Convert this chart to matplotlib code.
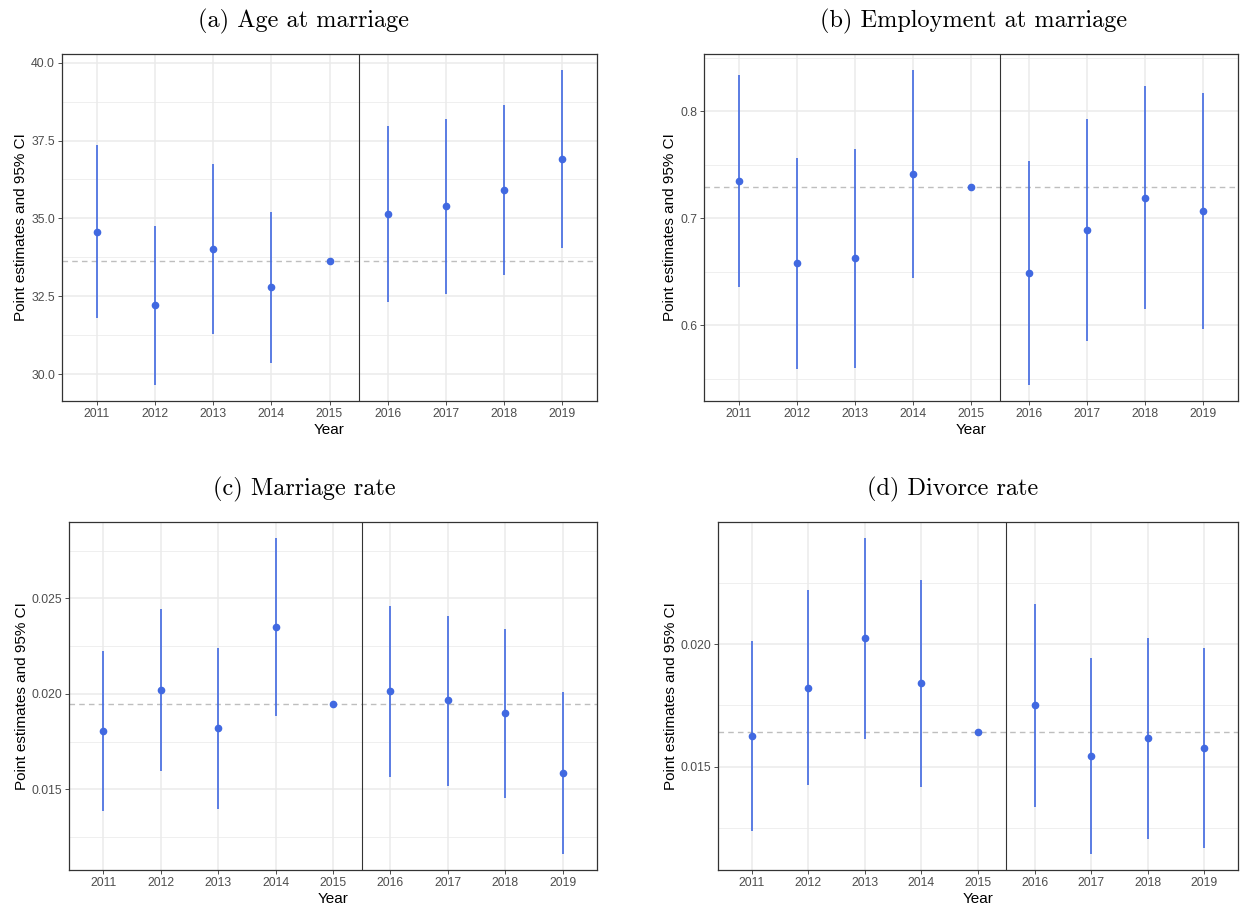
import matplotlib
matplotlib.use("Agg")
import matplotlib.pyplot as plt
from matplotlib.ticker import MultipleLocator, FormatStrFormatter
import numpy as np

plt.rcParams['font.family'] = ['Liberation Sans', 'DejaVu Sans']

years = [2011, 2012, 2013, 2014, 2015, 2016, 2017, 2018, 2019]

# (a) Age at marriage
age_est = [34.58, 32.21, 34.03, 32.79, 33.65, 35.14, 35.40, 35.92, 36.91]
age_lo = [31.80, 29.65, 31.29, 30.36, 33.65, 32.31, 32.59, 33.19, 34.04]
age_hi = [37.36, 34.75, 36.75, 35.20, 33.65, 37.96, 38.19, 38.63, 39.77]

# (b) Employment at marriage
emp_est = [0.7349, 0.6579, 0.6626, 0.7414, 0.7293, 0.6489, 0.6891, 0.7193, 0.7069]
emp_lo = [0.6361, 0.5589, 0.5598, 0.6440, 0.7293, 0.5440, 0.5850, 0.6153, 0.5966]
emp_hi = [0.8340, 0.7567, 0.7651, 0.8389, 0.7293, 0.7539, 0.7931, 0.8237, 0.8171]

# (c) Marriage rate
mar_est = [0.01807, 0.02021, 0.01819, 0.02353, 0.01949, 0.02016, 0.01967, 0.01898, 0.01586]
mar_lo = [0.01388, 0.01596, 0.01398, 0.01882, 0.01949, 0.01567, 0.01519, 0.01453, 0.01160]
mar_hi = [0.02223, 0.02447, 0.02239, 0.02818, 0.01949, 0.02463, 0.02410, 0.02342, 0.02010]

# (d) Divorce rate
div_est = [0.01624, 0.01822, 0.02023, 0.01840, 0.01639, 0.01751, 0.01542, 0.01615, 0.01575]
div_lo = [0.01236, 0.01425, 0.01612, 0.01418, 0.01639, 0.01336, 0.01142, 0.01205, 0.01168]
div_hi = [0.02011, 0.02220, 0.02434, 0.02261, 0.01639, 0.02165, 0.01945, 0.02023, 0.01982]

titles = ["(a) Age at marriage", "(b) Employment at marriage",
          "(c) Marriage rate", "(d) Divorce rate"]

panels = [
    (age_est, age_lo, age_hi, 2.5, 1.25, "%.1f"),
    (emp_est, emp_lo, emp_hi, 0.1, 0.05, "%.1f"),
    (mar_est, mar_lo, mar_hi, 0.005, 0.0025, "%.3f"),
    (div_est, div_lo, div_hi, 0.005, 0.0025, "%.3f"),
]

W, H = 1243, 907
fig = plt.figure(figsize=(W / 100, H / 100), dpi=100)

# axes boxes in pixels: left, right, top, bottom
boxes = [(62, 597, 54, 401), (704, 1238, 54, 401),
         (69, 597, 522, 870), (718, 1238, 522, 870)]
# title anchor (center x, baseline y) in pixels
title_pos = [(303, 27.5), (974, 27.5), (304, 495), (953, 495)]

blue = "#4169E1"
x = np.arange(len(years))
for (est, lo, hi, maj, mnr, fmt), box, title, tp in zip(panels, boxes, titles, title_pos):
    l, r, t, b = box
    ax = fig.add_axes([l / W, 1 - b / H, (r - l) / W, (b - t) / H])
    est = np.array(est); lo = np.array(lo); hi = np.array(hi)
    ymin, ymax = lo.min(), hi.max()
    pad = 0.05 * (ymax - ymin)
    ax.set_ylim(ymin - pad, ymax + pad)
    ax.set_xlim(-0.6, len(years) - 1 + 0.6)
    ax.yaxis.set_major_locator(MultipleLocator(maj))
    ax.yaxis.set_minor_locator(MultipleLocator(mnr))
    ax.yaxis.set_major_formatter(FormatStrFormatter(fmt))
    ax.set_xticks(x)
    ax.set_xticklabels([str(y) for y in years])
    ax.grid(True, which='major', color='#EBEBEB', linewidth=1.1, zorder=0)
    ax.grid(True, which='minor', axis='y', color='#EBEBEB', linewidth=0.55, zorder=0)
    ax.set_axisbelow(True)
    ax.tick_params(axis='both', which='major', length=3, width=0.6, color='#333333',
                   labelsize=8.8, labelcolor='#4D4D4D', pad=2)
    ax.tick_params(axis='y', which='minor', length=0)
    for s in ax.spines.values():
        s.set_color('#333333')
        s.set_linewidth(0.9)
    ref = est[years.index(2015)]
    ax.axhline(ref, color='#BEBEBE', linestyle=(0, (4, 3)), linewidth=1.0, zorder=1)
    ax.axvline(4.5, color='#333333', linewidth=0.8, zorder=1)
    ax.vlines(x, lo, hi, color=blue, linewidth=1.2, zorder=2)
    ax.plot(x, est, 'o', color=blue, markersize=4.5, zorder=3)
    ax.set_xlabel("Year", fontsize=11, labelpad=2.5)
    ax.set_ylabel("Point estimates and 95% CI", fontsize=11, labelpad=2)
    fig.text(tp[0] / W, 1 - tp[1] / H, title, family='cmr10', fontsize=17.5,
             ha='center', va='baseline')

fig.savefig("out.png", dpi=100)
